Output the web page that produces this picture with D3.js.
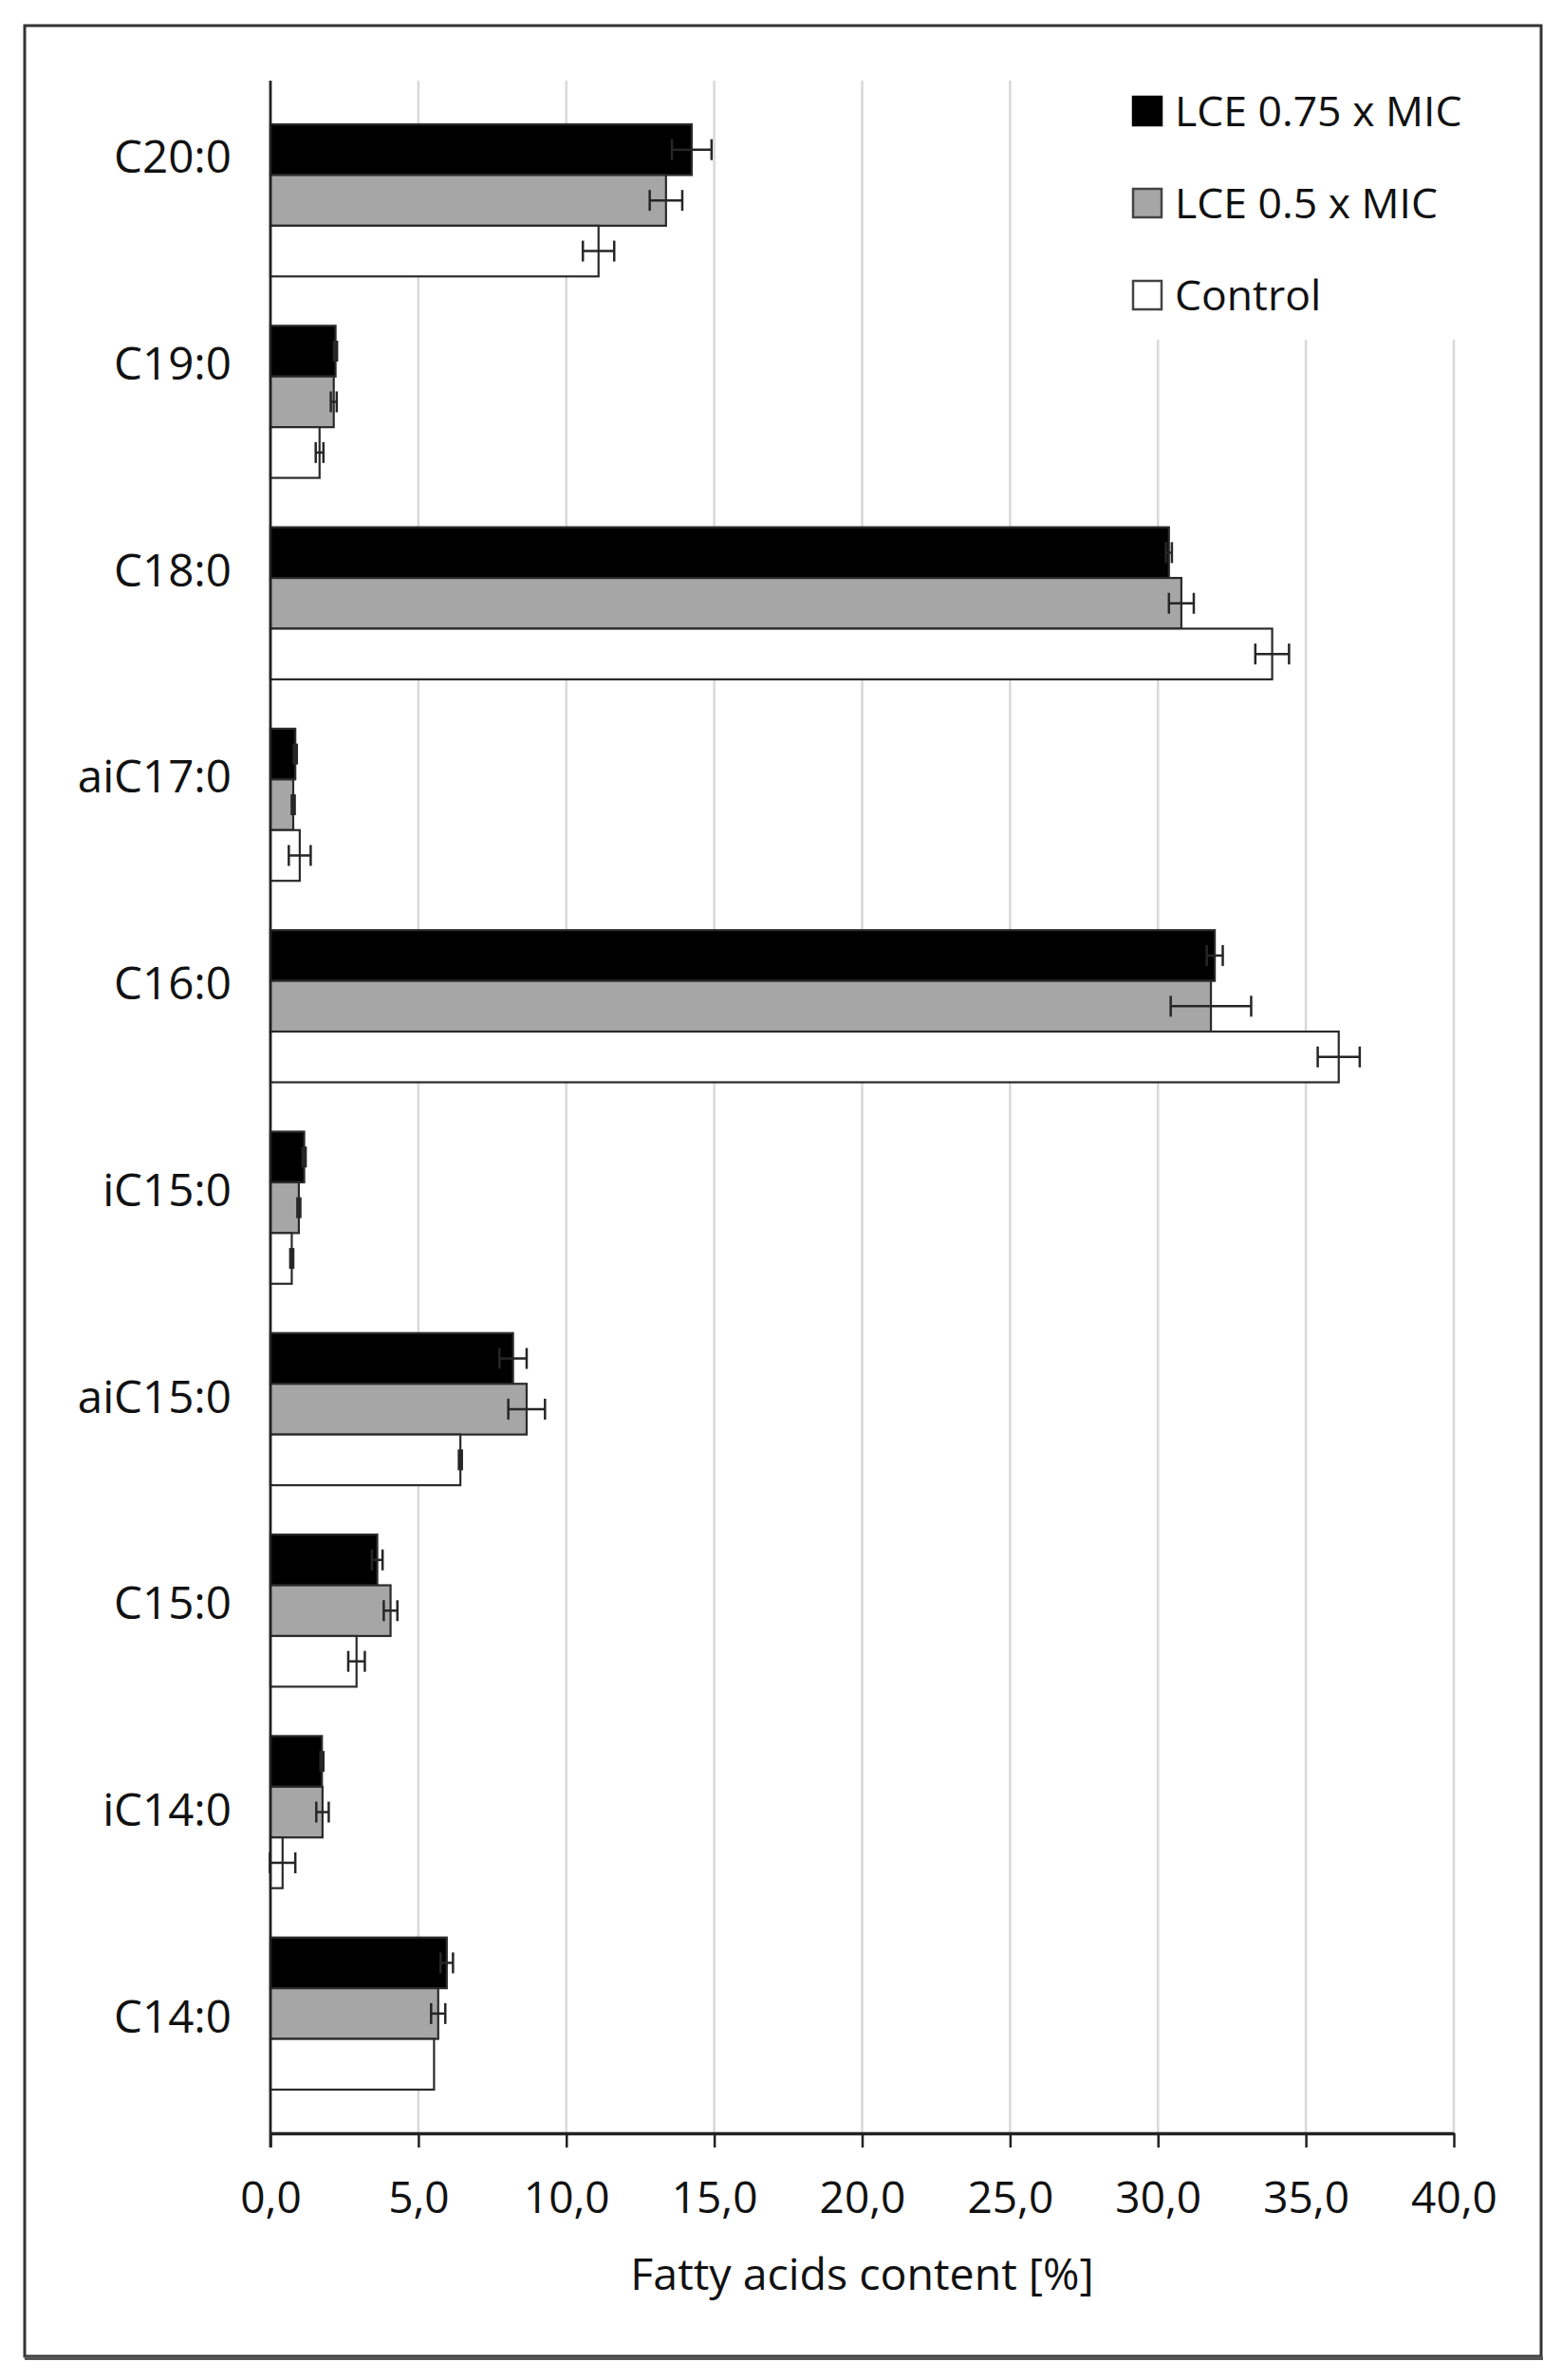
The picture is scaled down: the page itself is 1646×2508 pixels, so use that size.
<!DOCTYPE html>
<html>
<head>
<meta charset="utf-8">
<script src="https://cdn.jsdelivr.net/npm/d3@7"></script>
<style>
  html, body { margin: 0; padding: 0; background: #fff; }
  svg { display: block; }
  text { font-family: "Open Sans", "Noto Sans", sans-serif; fill: #111; }
</style>
</head>
<body>
<svg id="chart" width="1646" height="2508"></svg>
<script>
// ---- data (top to bottom as shown) ----
const categories = ["C20:0", "C19:0", "C18:0", "aiC17:0", "C16:0", "iC15:0", "aiC15:0", "C15:0", "iC14:0", "C14:0"];
const seriesNames = ["LCE 0.75 x MIC", "LCE 0.5 x MIC", "Control"];
const lce075 = [14.24, 2.20, 30.37, 0.84, 31.92, 1.14, 8.20, 3.61, 1.74, 5.96];
const lce075Err = [0.67, 0.05, 0.10, 0.05, 0.27, 0.05, 0.46, 0.18, 0.05, 0.21];
const lce05 = [13.37, 2.14, 30.79, 0.77, 31.79, 0.96, 8.66, 4.06, 1.76, 5.67];
const lce05Err = [0.55, 0.10, 0.42, 0.05, 1.36, 0.05, 0.62, 0.23, 0.21, 0.24];
const control = [11.09, 1.66, 33.86, 0.99, 36.11, 0.72, 6.42, 2.91, 0.41, 5.53];
const controlErr = [0.53, 0.13, 0.57, 0.37, 0.71, 0.05, 0.05, 0.28, 0.43, 0];
const xTicks = [0, 5, 10, 15, 20, 25, 30, 35, 40];
const xTitle = "Fatty acids content [%]";

const seriesValues = [lce075, lce05, control];
const seriesErrors = [lce075Err, lce05Err, controlErr];
const seriesFill = ["#000000", "#a6a6a6", "#ffffff"];

const svg = d3.select("#chart");

// frame
svg.append("rect").attr("x", 26).attr("y", 27).attr("width", 1598).attr("height", 2456)
  .attr("fill", "#fff").attr("stroke", "#333").attr("stroke-width", 3);
svg.append("line").attr("x1", 26).attr("x2", 1626).attr("y1", 2485).attr("y2", 2485)
  .attr("stroke", "#555").attr("stroke-width", 4);

// scales
const x = d3.scaleLinear().domain([0, 40]).range([285, 1532]);
const yAxisTop = 85, yAxisBottom = 2248;
const yBar = d3.scaleBand().domain(categories).range([131, 2202]).paddingInner(0.245).paddingOuter(0);
const yLabel = d3.scalePoint().domain(categories).range([165, 2125]);
const ySub = d3.scaleBand().domain(seriesNames).range([0, yBar.bandwidth()]);

// gridlines
svg.append("g").selectAll("line").data(xTicks.filter(t => t > 0)).join("line")
  .attr("x1", d => x(d)).attr("x2", d => x(d))
  .attr("y1", yAxisTop).attr("y2", yAxisBottom)
  .attr("stroke", "#d9d9d9").attr("stroke-width", 2.5);

// legend background (covers gridlines)
svg.append("rect").attr("x", 1180).attr("y", 80).attr("width", 400).attr("height", 278).attr("fill", "#fff");

// bars
const barG = svg.append("g");
seriesNames.forEach((s, si) => {
  const g = barG.append("g");
  g.selectAll("rect").data(categories).join("rect")
    .attr("x", x(0))
    .attr("y", c => yBar(c) + ySub(s))
    .attr("width", (c, i) => x(seriesValues[si][i]) - x(0))
    .attr("height", ySub.bandwidth())
    .attr("fill", seriesFill[si])
    .attr("stroke", "#2a2a2a").attr("stroke-width", 2.2);
});

// error bars
seriesNames.forEach((s, si) => {
  const g = barG.append("g").attr("stroke", "#262626").attr("stroke-width", 2.5).attr("fill", "none");
  categories.forEach((c, i) => {
    const v = seriesValues[si][i], e = seriesErrors[si][i];
    if (!(e > 0)) return;
    const cy = yBar(c) + ySub(s) + ySub.bandwidth() / 2;
    const x1 = x(v - e), x2 = x(v + e);
    g.append("line").attr("x1", x1).attr("x2", x2).attr("y1", cy).attr("y2", cy);
    g.append("line").attr("x1", x1).attr("x2", x1).attr("y1", cy - 11).attr("y2", cy + 11);
    g.append("line").attr("x1", x2).attr("x2", x2).attr("y1", cy - 11).attr("y2", cy + 11);
  });
});

// vertical axis line
svg.append("line").attr("x1", x(0)).attr("x2", x(0)).attr("y1", yAxisTop).attr("y2", yAxisBottom + 15)
  .attr("stroke", "#222").attr("stroke-width", 2.8);

// category labels
svg.append("g").selectAll("text").data(categories).join("text")
  .attr("x", 244).attr("y", d => yLabel(d)).attr("dy", "0.357em")
  .attr("text-anchor", "end").attr("font-size", 47.5).text(d => d);

// x axis
const fmt = d3.formatLocale({ decimal: ",", thousands: ".", grouping: [3], currency: ["", ""] }).format(".1f");
const xAxis = svg.append("g").attr("transform", `translate(0,${yAxisBottom})`)
  .call(d3.axisBottom(x).tickValues(xTicks).tickFormat(fmt).tickSize(15).tickPadding(0).tickSizeOuter(0));
xAxis.select(".domain").attr("stroke", "#222").attr("stroke-width", 3.5);
xAxis.selectAll(".tick line").attr("stroke", "#222").attr("stroke-width", 2.5);
xAxis.selectAll(".tick text").attr("font-size", 46).attr("fill", "#111")
  .attr("font-family", "'Open Sans', sans-serif").attr("y", 84).attr("dy", 0);

// axis title
svg.append("text").attr("x", (x(0) + x(40)) / 2).attr("y", 2413).attr("text-anchor", "middle")
  .attr("font-size", 46.5).text(xTitle);

// legend
const legRows = [117, 214, 311];
const leg = svg.append("g");
seriesNames.forEach((s, si) => {
  leg.append("rect").attr("x", 1194).attr("y", legRows[si] - 15).attr("width", 30).attr("height", 30)
    .attr("fill", seriesFill[si]).attr("stroke", si === 0 ? "#000" : "#444").attr("stroke-width", 2.5);
  leg.append("text").attr("x", 1238).attr("y", legRows[si]).attr("dy", "0.357em")
    .attr("font-size", 44.5).text(s);
});
</script>
</body>
</html>
